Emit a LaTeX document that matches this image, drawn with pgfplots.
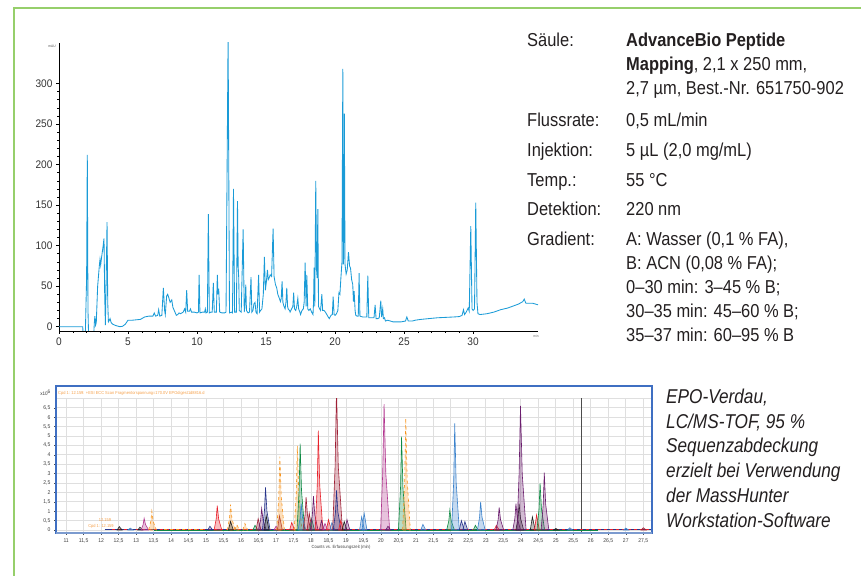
\documentclass[border=0pt]{standalone}
\usepackage{fontspec}
\setmainfont{Liberation Sans}[FakeStretch=0.92]
\newfontfamily\condfont{Liberation Sans}[FakeStretch=0.88]
\newfontfamily\capfont{Liberation Sans}[FakeStretch=0.86]
\usepackage{pgfplots}
\pgfplotsset{compat=1.18}
\definecolor{trace}{HTML}{1A9BD7}
\definecolor{gframe}{HTML}{96CF6B}
\definecolor{txt}{HTML}{231F20}
\definecolor{bframe}{HTML}{3F6FC2}
\definecolor{bbottom}{HTML}{7C9BCF}
\definecolor{otitle}{HTML}{F5A04A}
\definecolor{cOr}{HTML}{F7941D}
\definecolor{cGr}{HTML}{0E8A44}
\definecolor{cRd}{HTML}{E8212B}
\definecolor{cDr}{HTML}{9E1F35}
\definecolor{cMg}{HTML}{B2368F}
\definecolor{cPu}{HTML}{6B1E6E}
\definecolor{cNv}{HTML}{27348B}
\definecolor{cBl}{HTML}{3B82CC}
\definecolor{cBk}{HTML}{222222}
\pgfplotsset{pk/.style={draw=#1, fill=#1, fill opacity=0.3, line width=0.6pt, mark=none}}

\begin{document}
\begin{tikzpicture}[x=1pt,y=1pt]
\coordinate (UVsw) at (59,244);
\coordinate (MSsw) at (56,42);
\draw[gframe, line width=2pt] (14,-20) -- (14,567) -- (880,567);

% UV chromatogram
\begin{axis}[
  at={(UVsw)}, anchor=south west, scale only axis,
  width=479pt, height=288pt,
  xmin=0, xmax=34.7, ymin=-5.3, ymax=350,
  axis x line*=bottom, axis y line*=left,
  axis line style={-, black, line width=0.7pt},
  xtick={0,5,...,30}, minor x tick num=4,
  ytick={0,50,...,300}, minor y tick num=4,
  tick align=outside, major tick length=3pt, minor tick length=2pt,
  tick style={black, line width=0.5pt},
  ticklabel style={font=\fontsize{11}{11}\selectfont, text=black!80},
  /pgf/number format/assume math mode=true,
]
\addplot[trace, line width=0.85pt, mark=none] coordinates {
(0,0) (1.72,0) (1.76,-15) (1.90,-15) (2.00,60) (2.05,212) (2.10,20) (2.15,-15)
(2.50,-15) (2.56,5) (2.60,13) (2.65,2) (2.70,5) (2.80,50) (2.92,75) (2.97,83)
(3.02,76) (3.08,85) (3.20,100) (3.26,109) (3.31,40) (3.36,2) (3.42,60) (3.48,129)
(3.53,30) (3.58,6) (3.65,8) (3.70,10) (3.78,5) (3.90,3) (4.10,1.5) (4.40,0)
(4.60,0.5) (4.80,3) (5.00,8) (5.30,8) (5.60,8.5) (5.90,9) (6.20,12) (6.50,13)
(6.80,13) (6.90,17) (7.00,13) (7.15,14) (7.22,21) (7.30,13) (7.45,14) (7.56,48)
(7.65,20) (7.70,15) (7.80,38) (7.87,40) (7.95,36) (8.05,30) (8.17,33) (8.25,24)
(8.35,20) (8.50,14) (8.60,15) (8.70,17) (8.80,16) (9.00,18) (9.10,22) (9.18,18)
(9.25,45) (9.32,19) (9.45,19) (9.52,22) (9.60,18) (9.80,18) (10.00,17) (10.10,18)
(10.15,64) (10.21,17) (10.40,18) (10.55,18) (10.60,22) (10.65,17) (10.75,18) (10.82,139)
(10.89,17) (11.00,18) (11.10,18) (11.18,54) (11.25,18) (11.40,18) (11.47,64) (11.52,40)
(11.57,47) (11.64,18) (11.80,17) (12.00,17) (12.10,18) (12.25,360) (12.35,17) (12.50,18)
(12.57,17) (12.64,170) (12.72,18) (12.85,18) (12.93,155) (12.98,74) (13.02,60) (13.06,20)
(13.20,18) (13.34,120) (13.42,18) (13.48,30) (13.53,52) (13.58,20) (13.70,17) (13.80,18)
(13.91,61) (13.97,18) (14.05,20) (14.12,28) (14.20,30) (14.27,18) (14.35,16) (14.46,64)
(14.53,18) (14.60,20) (14.70,22) (14.80,40) (14.88,86) (14.95,45) (15.02,55) (15.10,70)
(15.16,58) (15.22,60) (15.30,64) (15.40,62) (15.51,121) (15.58,62) (15.68,52) (15.77,48)
(15.85,40) (15.94,36) (16.04,31) (16.10,35) (16.16,56) (16.22,30) (16.30,25) (16.38,22)
(16.44,30) (16.50,48) (16.56,25) (16.60,22) (16.70,20) (16.74,18) (16.85,22) (16.94,25)
(17.00,42) (17.06,22) (17.15,20) (17.22,25) (17.30,35) (17.36,22) (17.45,18) (17.50,15)
(17.60,20) (17.70,22) (17.76,30) (17.83,79) (17.90,25) (17.95,64) (18.02,22) (18.10,20)
(18.20,22) (18.30,18) (18.40,15) (18.44,30) (18.48,73) (18.53,25) (18.60,180) (18.66,70)
(18.70,60) (18.75,145) (18.80,25) (18.88,22) (18.95,20) (19.04,40) (19.10,20) (19.20,20)
(19.30,18) (19.40,15) (19.50,12) (19.58,10) (19.70,14) (19.80,15) (19.86,37) (19.93,15)
(20.00,14) (20.10,16) (20.20,20) (20.28,42) (20.35,40) (20.42,60) (20.50,80) (20.56,318)
(20.60,77) (20.63,90) (20.67,263) (20.72,77) (20.80,65) (20.88,70) (20.97,92) (21.05,75)
(21.12,72) (21.20,58) (21.28,52) (21.33,31) (21.38,44) (21.45,20) (21.50,14) (21.60,13)
(21.68,13) (21.74,66) (21.80,13) (22.00,12) (22.20,12) (22.30,12) (22.37,63) (22.44,11)
(22.60,11) (22.82,11) (22.90,27) (22.97,10) (23.10,10) (23.20,11) (23.31,32) (23.37,12)
(23.45,22) (23.50,10) (23.58,11) (23.65,7) (23.80,8) (24.00,7) (24.20,6) (24.50,6)
(24.80,6) (25.10,7) (25.20,12) (25.30,7) (25.60,7) (25.80,8) (26.20,9) (26.80,10)
(27.40,11) (28.00,11.5) (28.60,12) (29.00,12.5) (29.20,14) (29.30,21) (29.38,15) (29.50,18)
(29.64,23) (29.72,19) (29.83,124) (29.92,22) (30.00,20) (30.10,22) (30.19,153) (30.28,30)
(30.35,16) (30.50,15) (31.00,16) (31.50,18) (32.00,21) (32.50,23) (32.90,25.5) (33.30,28)
(33.60,31) (33.70,34) (33.82,29) (34.00,29) (34.30,29) (34.70,27)
};
\end{axis}
\node[font=\fontsize{3.5}{3.5}\selectfont, text=black!70] at (52,529) {mAU};
\node[font=\fontsize{3.5}{3.5}\selectfont, text=black!60] at (536,239) {min};

% Conditions
\begin{scope}[every node/.style={anchor=base west, inner sep=0pt, text=txt, font=\condfont\fontsize{18.7}{18.7}\selectfont}]
\node at (527,528) {Säule:};
\node at (626,528) {\textbf{AdvanceBio Peptide}};
\node at (626,504) {\textbf{Mapping}, 2,1 x 250 mm,};
\node at (626,480) {2,7 µm, Best.-Nr. 651750-902};
\node at (527,448) {Flussrate:};
\node at (626,448) {0,5 mL/min};
\node at (527,418) {Injektion:};
\node at (626,418) {5 µL (2,0 mg/mL)};
\node at (527,388) {Temp.:};
\node at (626,388) {55 °C};
\node at (527,359) {Detektion:};
\node at (626,359) {220 nm};
\node at (527,329) {Gradient:};
\node at (626,329) {A: Wasser (0,1 \% FA),};
\node at (626,305) {B: ACN (0,08 \% FA);};
\node at (626,281) {0–30 min: 3–45 \% B;};
\node at (626,257) {30–35 min: 45–60 \% B;};
\node at (626,233) {35–37 min: 60–95 \% B};
\end{scope}

% MS chromatogram
\begin{axis}[
  at={(MSsw)}, anchor=south west, scale only axis,
  width=596pt, height=134.6pt,
  xmin=10.71, xmax=27.75, ymin=-0.16, ymax=7,
  axis line style={gray!25, line width=0.8pt},
  xtick={11,11.5,...,27.5}, ytick={0,0.5,...,6.5},
  xtick pos=bottom, ytick pos=left,
  grid=major, grid style={gray!25, line width=0.8pt},
  tick align=outside, major tick length=2pt,
  tick style={black!70, line width=0.4pt},
  ticklabel style={font=\fontsize{5.5}{5.5}\selectfont, text=black!75},
  /pgf/number format/use comma, /pgf/number format/1000 sep={},
  /pgf/number format/assume math mode=true,
]
\addplot[gray!60!black, line width=1pt] coordinates {(25.72,-0.16) (25.72,7)};
\addplot[cNv, line width=0.8pt] coordinates {(12.1,0.02) (27.75,0.02)};
\addplot[cRd, dashed, line width=0.7pt] coordinates {(12.3,0.04) (27.7,0.04)};
\addplot[cGr, line width=0.6pt] coordinates {(13.5,0.01) (26.2,0.01)};
\addplot[cOr, dashed, line width=0.7pt] coordinates {(13.8,0.05) (15.0,0.05)};
\addplot[pk=cBk] coordinates {(12.46,0) (12.52,0.18) (12.60,0)} \closedcycle;
\addplot[pk=cBl] coordinates {(12.77,0) (12.83,0.10) (12.91,0)} \closedcycle;
\addplot[pk=cBk] coordinates {(13.05,0) (13.11,0.15) (13.19,0)} \closedcycle;
\addplot[pk=cMg] coordinates {(13.14,0) (13.20,0.28) (13.23,0.62) (13.27,0.28) (13.36,0)} \closedcycle;
\addplot[pk=cOr, dashed] coordinates {(13.36,0) (13.42,0.45) (13.45,1.00) (13.49,0.45) (13.58,0)} \closedcycle;
\addplot[pk=cNv] coordinates {(15.05,0) (15.11,0.20) (15.19,0)} \closedcycle;
\addplot[pk=cRd] coordinates {(15.23,0) (15.29,0.585) (15.32,1.30) (15.36,0.585) (15.45,0)} \closedcycle;
\addplot[pk=cOr, dashed] coordinates {(15.61,0) (15.67,0.61) (15.70,1.35) (15.74,0.61) (15.83,0)} \closedcycle;
\addplot[pk=cBk] coordinates {(15.64,0) (15.70,0.45) (15.78,0)} \closedcycle;
\addplot[pk=cOr, dashed] coordinates {(15.82,0) (15.88,0.28) (15.96,0)} \closedcycle;
\addplot[pk=cOr, dashed] coordinates {(16.05,0) (16.11,0.35) (16.19,0)} \closedcycle;
\addplot[pk=cGr] coordinates {(16.34,0) (16.40,0.25) (16.48,0)} \closedcycle;
\addplot[pk=cDr] coordinates {(16.43,0) (16.49,0.60) (16.57,0)} \closedcycle;
\addplot[pk=cPu] coordinates {(16.50,0) (16.56,0.52) (16.59,1.15) (16.63,0.52) (16.72,0)} \closedcycle;
\addplot[pk=cNv] coordinates {(16.61,0) (16.67,1.02) (16.70,2.27) (16.74,1.02) (16.83,0)} \closedcycle;
\addplot[pk=cBk] coordinates {(16.66,0) (16.72,0.75) (16.80,0)} \closedcycle;
\addplot[pk=cMg] coordinates {(16.94,0) (17.00,0.20) (17.08,0)} \closedcycle;
\addplot[pk=cDr] coordinates {(17.04,0) (17.10,0.75) (17.18,0)} \closedcycle;
\addplot[pk=cOr, dashed] coordinates {(17.02,0) (17.08,1.76) (17.11,3.90) (17.15,1.76) (17.24,0)} \closedcycle;
\addplot[pk=cRd] coordinates {(17.39,0) (17.45,0.40) (17.53,0)} \closedcycle;
\addplot[pk=cOr, dashed] coordinates {(17.52,0) (17.58,2.01) (17.61,4.47) (17.65,2.01) (17.74,0)} \closedcycle;
\addplot[pk=cGr] coordinates {(17.60,0) (17.66,2.07) (17.69,4.60) (17.73,2.07) (17.82,0)} \closedcycle;
\addplot[pk=cBl] coordinates {(17.63,0) (17.69,0.63) (17.72,1.40) (17.76,0.63) (17.85,0)} \closedcycle;
\addplot[pk=cDr] coordinates {(17.77,0) (17.83,0.79) (17.86,1.75) (17.90,0.79) (17.99,0)} \closedcycle;
\addplot[pk=cDr] coordinates {(17.89,0) (17.95,0.90) (18.03,0)} \closedcycle;
\addplot[pk=cGr] coordinates {(17.96,0) (18.02,0.60) (18.10,0)} \closedcycle;
\addplot[pk=cPu] coordinates {(17.98,0) (18.04,0.81) (18.07,1.80) (18.11,0.81) (18.20,0)} \closedcycle;
\addplot[pk=cRd] coordinates {(18.12,0) (18.18,2.38) (18.21,5.28) (18.25,2.38) (18.34,0)} \closedcycle;
\addplot[pk=cPu] coordinates {(18.24,0) (18.30,0.50) (18.38,0)} \closedcycle;
\addplot[pk=cMg] coordinates {(18.34,0) (18.40,0.35) (18.48,0)} \closedcycle;
\addplot[pk=cRd] coordinates {(18.44,0) (18.50,0.55) (18.58,0)} \closedcycle;
\addplot[pk=cBl] coordinates {(18.54,0) (18.60,0.40) (18.68,0)} \closedcycle;
\addplot[pk=cDr] coordinates {(18.62,0) (18.69,3.40) (18.73,7.50) (18.78,3.40) (18.90,0)} \closedcycle;
\addplot[pk=cNv] coordinates {(18.64,0) (18.70,0.95) (18.73,2.10) (18.77,0.95) (18.86,0)} \closedcycle;
\addplot[pk=cRd] coordinates {(18.79,0) (18.85,0.50) (18.93,0)} \closedcycle;
\addplot[pk=cBk] coordinates {(18.89,0) (18.95,0.45) (19.03,0)} \closedcycle;
\addplot[pk=cPu] coordinates {(18.97,0) (19.03,0.55) (19.11,0)} \closedcycle;
\addplot[pk=cBl] coordinates {(19.39,0) (19.45,0.70) (19.53,0)} \closedcycle;
\addplot[pk=cBl] coordinates {(19.46,0) (19.52,0.90) (19.60,0)} \closedcycle;
\addplot[pk=cMg] coordinates {(19.99,0) (20.05,3.00) (20.09,6.70) (20.14,3.00) (20.25,0)} \closedcycle;
\addplot[pk=cPu] coordinates {(20.14,0) (20.20,0.20) (20.28,0)} \closedcycle;
\addplot[pk=cGr] coordinates {(20.50,0) (20.56,2.23) (20.59,4.96) (20.63,2.23) (20.72,0)} \closedcycle;
\addplot[pk=cOr, dashed] coordinates {(20.62,0) (20.68,2.67) (20.71,5.94) (20.75,2.67) (20.84,0)} \closedcycle;
\addplot[pk=cBl] coordinates {(21.14,0) (21.20,0.30) (21.28,0)} \closedcycle;
\addplot[pk=cGr] coordinates {(21.88,0) (21.94,0.48) (21.97,1.06) (22.01,0.48) (22.10,0)} \closedcycle;
\addplot[pk=cBl] coordinates {(22.02,0) (22.08,2.55) (22.11,5.67) (22.15,2.55) (22.24,0)} \closedcycle;
\addplot[pk=cNv] coordinates {(22.24,0) (22.30,0.50) (22.38,0)} \closedcycle;
\addplot[pk=cNv] coordinates {(22.34,0) (22.40,0.45) (22.48,0)} \closedcycle;
\addplot[pk=cGr] coordinates {(22.64,0) (22.70,0.25) (22.78,0)} \closedcycle;
\addplot[pk=cBl] coordinates {(22.76,0) (22.82,0.68) (22.85,1.50) (22.89,0.68) (22.98,0)} \closedcycle;
\addplot[pk=cRd] coordinates {(23.24,0) (23.30,0.25) (23.38,0)} \closedcycle;
\addplot[pk=cPu] coordinates {(23.29,0) (23.35,0.54) (23.38,1.20) (23.42,0.54) (23.51,0)} \closedcycle;
\addplot[pk=cPu] coordinates {(23.77,0) (23.83,0.63) (23.86,1.40) (23.90,0.63) (23.99,0)} \closedcycle;
\addplot[pk=cBk] coordinates {(23.86,0) (23.92,0.63) (23.95,1.40) (23.99,0.63) (24.08,0)} \closedcycle;
\addplot[pk=cPu] coordinates {(23.89,0) (23.95,2.97) (23.99,6.60) (24.04,2.97) (24.15,0)} \closedcycle;
\addplot[pk=cBk] coordinates {(24.27,0) (24.33,0.70) (24.41,0)} \closedcycle;
\addplot[pk=cRd] coordinates {(24.39,0) (24.45,0.80) (24.53,0)} \closedcycle;
\addplot[pk=cGr] coordinates {(24.46,0) (24.52,1.12) (24.55,2.48) (24.59,1.12) (24.68,0)} \closedcycle;
\addplot[pk=cPu] coordinates {(24.58,0) (24.64,1.37) (24.67,3.05) (24.71,1.37) (24.80,0)} \closedcycle;
\addplot[pk=cBk] coordinates {(24.94,0) (25.00,0.08) (25.08,0)} \closedcycle;
\addplot[pk=cBl] coordinates {(25.34,0) (25.40,0.12) (25.48,0)} \closedcycle;
\addplot[pk=cBl] coordinates {(26.94,0) (27.00,0.10) (27.08,0)} \closedcycle;
\addplot[pk=cDr] coordinates {(27.44,0) (27.50,0.12) (27.58,0)} \closedcycle;
\end{axis}
\draw[bframe, line width=1.2pt] (56,42) rectangle (652,189);
\draw[bbottom, line width=2pt] (56,42) -- (652,42);
\node[anchor=west, inner sep=0pt, font=\fontsize{4.3}{4.3}\selectfont, text=otitle] at (58,182) {Cpd 1: 12.159: +ESI ECC Scan Fragmentorspannung=170.0V EPOdigest1d8816.d};
\node[anchor=east, inner sep=0pt, font=\fontsize{5}{5}\selectfont, text=black!80] at (51,182) {x10\textsuperscript{6}};
\node[inner sep=0pt, font=\fontsize{4.5}{4.5}\selectfont, text=black!75] at (341,28) {Counts vs. Erfassungszeit (min)};
\node[inner sep=0pt, font=\fontsize{4.3}{4.3}\selectfont, text=otitle] at (105,55) {12.159};
\node[inner sep=0pt, font=\fontsize{4.3}{4.3}\selectfont, text=otitle] at (101,48.3) {Cpd 1: 12.159};

% caption
\begin{scope}[every node/.style={anchor=base west, inner sep=0pt, text=txt, font=\capfont\fontsize{20}{20}\selectfont\itshape}]
\node at (666,171) {EPO-Verdau,};
\node at (666,146) {LC/MS-TOF, 95 \%};
\node at (666,122) {Sequenzabdeckung};
\node at (666,97) {erzielt bei Verwendung};
\node at (666,72) {der MassHunter};
\node at (666,47) {Workstation-Software};
\end{scope}
\pgfresetboundingbox
\useasboundingbox (0,0) rectangle (861,575);
\end{tikzpicture}
\end{document}
